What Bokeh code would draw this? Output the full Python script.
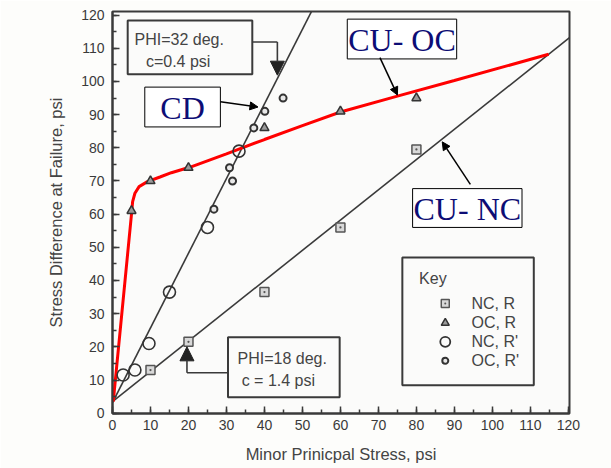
from bokeh.plotting import figure
from bokeh.models import Range1d, SingleIntervalTicker, Arrow, NormalHead
from bokeh.core.properties import value
from bokeh.embed import file_html
from bokeh.resources import INLINE

# ---- data ----
nc_r_x = [10, 20, 40, 60, 80]
nc_r_y = [13, 21.5, 36.5, 56, 79.5]
oc_r_x = [5, 10, 20, 40, 60, 80]
oc_r_y = [61, 70, 74, 86, 91, 95]
nc_rp_x = [2.8, 5.9, 9.6, 15, 25, 33.3]
nc_rp_y = [11.5, 13, 21, 36.5, 56, 79]
oc_rp_x = [26.7, 30.8, 31.6, 37.2, 40.1, 44.9]
oc_rp_y = [61.5, 74, 70, 86, 91, 95]

cd_x = [0, 53]
cd_y = [3.2, 122.5]
cunc_x = [0, 120.3]
cunc_y = [3.5, 113.2]
cuoc_x = [0.2, 5.0, 5.3, 5.9, 7.0, 9.2, 12.5, 15.5, 20.5, 30, 40, 50, 60, 75, 90, 114.8]
cuoc_y = [3.5, 60, 63.8, 66.3, 68.3, 69.8, 71.2, 72.5, 74.2, 78.2, 82.5, 86.7, 90.8, 95.6, 100.3, 108.2]

x_label = "Minor Prinicpal Stress, psi"
y_label = "Stress Difference at Failure, psi"
key_labels = ["NC, R", "OC, R", "NC, R'", "OC, R'"]

GRAY = "#3a3a3a"
TXT = "#444444"
NAVY = "#0d0d75"
SANS = "Liberation Sans"
SERIF = "Liberation Serif"

p = figure(width=611, height=468, output_backend="svg", toolbar_location=None,
           x_range=Range1d(0, 120.3), y_range=Range1d(-0.1, 121.1),
           min_border_left=112, min_border_right=42, min_border_top=11, min_border_bottom=55,
           background_fill_color="#fbfbfa", border_fill_color="#fdfdfb")
p.xgrid.visible = False
p.ygrid.visible = False
p.outline_line_color = GRAY
p.outline_line_width = 2

for ax in (p.xaxis[0], p.yaxis[0]):
    ax.ticker = SingleIntervalTicker(interval=10, num_minor_ticks=2)
    ax.major_tick_in = 7
    ax.major_tick_out = 0
    ax.minor_tick_in = 4
    ax.minor_tick_out = 0
    ax.axis_line_width = 2
    ax.axis_line_color = GRAY
    ax.major_tick_line_color = GRAY
    ax.major_tick_line_width = 1.5
    ax.minor_tick_line_color = GRAY
    ax.minor_tick_line_width = 1.5
    ax.major_label_text_font = SANS
    ax.major_label_text_font_size = "14px"
    ax.major_label_text_color = GRAY
    ax.axis_label_text_font = SANS
    ax.axis_label_text_font_size = "16.5px"
    ax.axis_label_text_font_style = "normal"
    ax.axis_label_text_color = TXT

p.xaxis.axis_label = x_label
p.yaxis.axis_label = y_label
p.xaxis.major_label_standoff = 6
p.yaxis.major_label_standoff = 8
p.xaxis.axis_label_standoff = 12
p.yaxis.axis_label_standoff = 13

# ---- fitted lines ----
p.line(cd_x, cd_y, line_color=GRAY, line_width=1.6)
p.line(cunc_x, cunc_y, line_color=GRAY, line_width=1.6)
p.line(cuoc_x, cuoc_y, line_color="#ff0000", line_width=3)

# ---- data points ----
p.scatter(nc_r_x, nc_r_y, marker="square_dot", size=9, line_color="#555555",
          line_width=1.5, fill_color="#d8d8d8")
p.scatter(oc_r_x, oc_r_y, marker="triangle", size=9, line_color="#333333",
          line_width=1.5, fill_color="#9a9a9a")
p.scatter(nc_rp_x, nc_rp_y, marker="circle", size=12, line_color="#333333",
          line_width=1.6, fill_color=None)
p.scatter(oc_rp_x, oc_rp_y, marker="circle", size=7, line_color="#333333",
          line_width=2, fill_color="#e8e8e8")

# ---- annotation boxes (gray, original figure) ----
p.quad(left=[4.0, 30.4, 76.3], right=[36.8, 59.8, 110.9], top=[118.4, 22.9, 46.9],
       bottom=[102.2, 4.8, 8.4], fill_color="#fbfbfa", line_color=GRAY, line_width=2)
p.text(x=[5.8, 8.8, 32.9, 34.0, 80.7], y=[112.7, 105.9, 16.5, 9.9, 40.6],
       text=["PHI=32 deg.", "c=0.4 psi", "PHI=18 deg.", "c = 1.4 psi", "Key"],
       text_font=value(SANS), text_font_size=value("16px"), text_color=TXT,
       text_baseline="middle", text_align="left")

key_y = [33.1, 27.2, 21.5, 15.8]
p.text(x=[94.5] * 4, y=key_y, text=key_labels, text_font=value(SANS),
       text_font_size=value("16px"), text_color=TXT, text_baseline="middle", text_align="left")
p.scatter([87.6], [key_y[0]], marker="square_dot", size=8, line_color="#555555",
          line_width=1.5, fill_color="#d8d8d8")
p.scatter([87.6], [key_y[1]], marker="triangle", size=8, line_color="#333333",
          line_width=1.5, fill_color="#9a9a9a")
p.scatter([87.6], [key_y[2]], marker="circle", size=10, line_color="#333333",
          line_width=1.8, fill_color=None)
p.scatter([87.6], [key_y[3]], marker="circle", size=6, line_color="#333333",
          line_width=2, fill_color="#e8e8e8")

# bent arrows of the original figure
p.line([36.8, 43.4], [111.9, 111.9], line_color=GRAY, line_width=1.6)
p.add_layout(Arrow(end=NormalHead(size=14, fill_color="#222222", line_color="#222222"),
                   x_start=43.4, y_start=111.9, x_end=43.4, y_end=101.9,
                   line_color=GRAY, line_width=1.6))
p.line([30.4, 19.6], [12.2, 12.2], line_color=GRAY, line_width=1.6)
p.add_layout(Arrow(end=NormalHead(size=14, fill_color="#222222", line_color="#222222"),
                   x_start=19.6, y_start=12.2, x_end=19.6, y_end=20.0,
                   line_color=GRAY, line_width=1.6))

# ---- overlay labels (navy serif) ----
p.quad(left=[8.5, 61.8, 79.0], right=[28.4, 90.6, 107.8], top=[98.3, 118.8, 67.7],
       bottom=[86.3, 106.8, 56.0], fill_color="white", line_color="black", line_width=1)
p.text(x=[18.45, 76.2, 93.4], y=[92.1, 112.6, 61.7], text=["CD", "CU- OC", "CU- NC"],
       text_font=value(SERIF), text_font_size=value("32px"), text_color=NAVY,
       text_baseline="middle", text_align="center")
for xs, ys, xe, ye in [(28.4, 93.9, 38.3, 92.3), (70.4, 107.2, 75.0, 95.9),
                       (94.2, 69.0, 86.8, 81.8)]:
    p.add_layout(Arrow(end=NormalHead(size=8, fill_color="black", line_color="black"),
                       x_start=xs, y_start=ys, x_end=xe, y_end=ye,
                       line_color="black", line_width=1.5))

open("out.html", "w").write(file_html(p, INLINE))
